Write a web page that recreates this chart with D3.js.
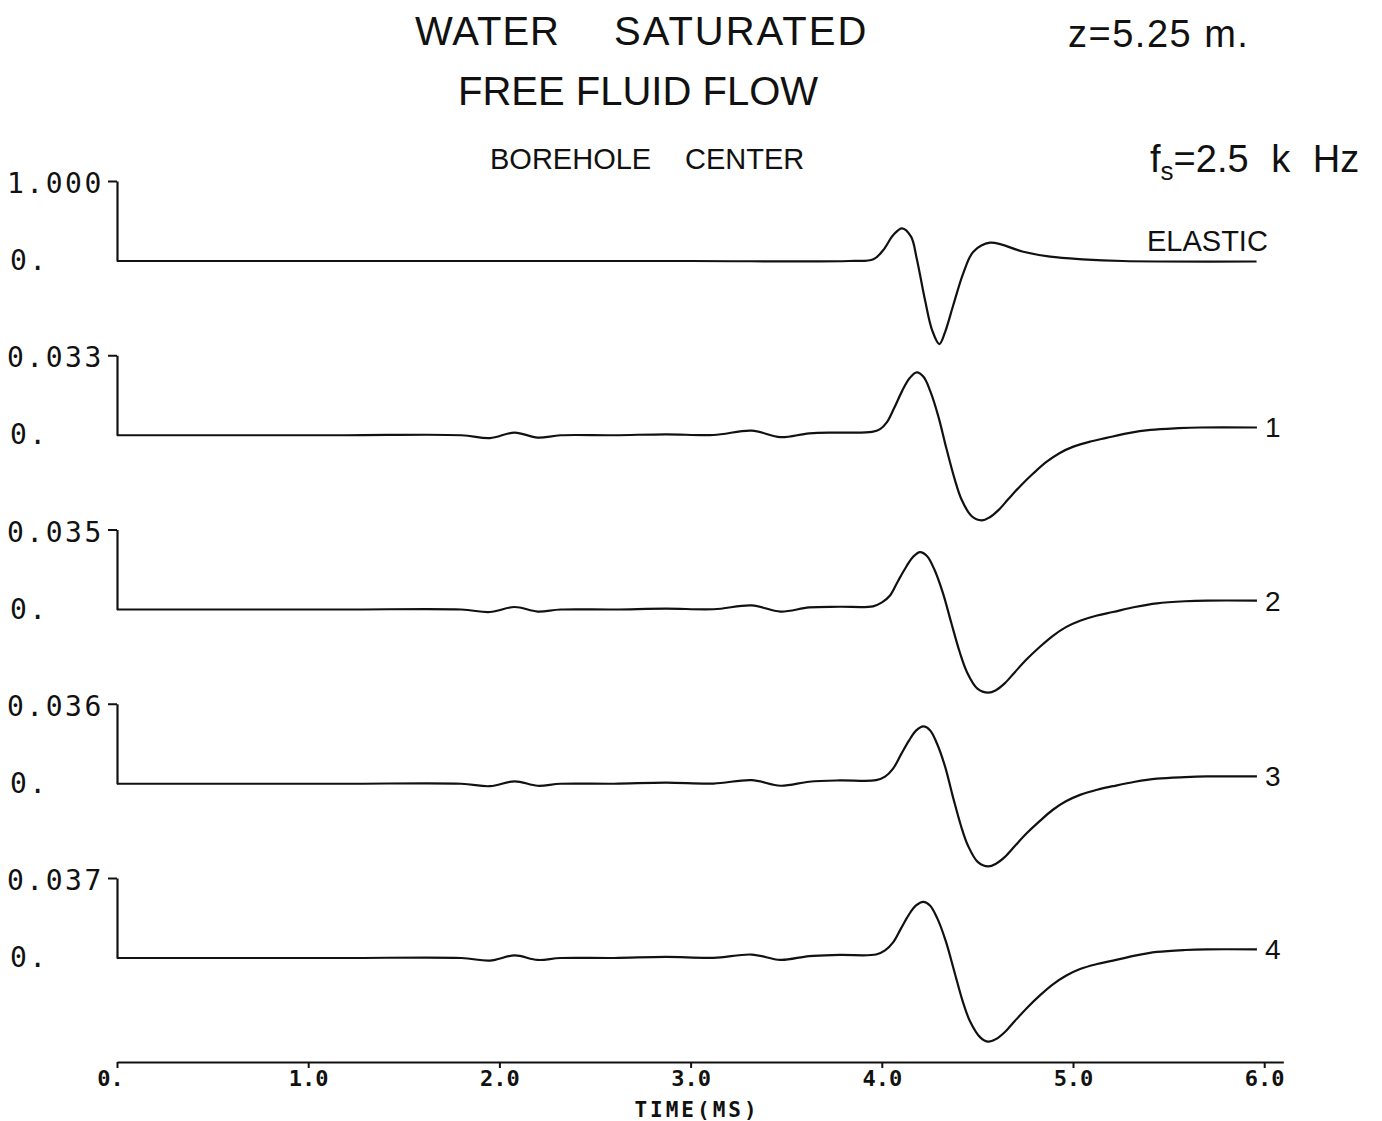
<!DOCTYPE html>
<html>
<head>
<meta charset="utf-8">
<script src="https://cdn.jsdelivr.net/npm/d3@7"></script>
<style>
  body { margin: 0; background: #fff; }
  svg { display: block; }
</style>
</head>
<body>
<svg id="chart" width="1382" height="1121"></svg>
<script>
// Pressure traces at the borehole center (time in ms, amplitude in panel units)
const timeElastic = [0, 1.0, 2.0, 3.0, 3.83, 3.956, 4.008, 4.060, 4.106, 4.153, 4.182, 4.226, 4.263, 4.301, 4.331, 4.374, 4.426, 4.479, 4.566, 4.74, 4.88, 5.05, 5.26, 5.96];
const ampElastic  = [0, 0, 0, 0, 0, 0.021, 0.138, 0.325, 0.409, 0.304, 0.038, -0.488, -0.863, -1.038, -0.888, -0.550, -0.154, 0.116, 0.229, 0.116, 0.054, 0.021, 0, -0.006];

const time1 = [0, 0.6, 1.2, 1.80, 1.95, 2.08, 2.20, 2.32, 2.60, 2.87, 3.12, 3.32, 3.47, 3.62, 3.78,
  3.949, 3.991, 4.027, 4.064, 4.106, 4.145, 4.183, 4.218, 4.254, 4.296, 4.338, 4.380, 4.416, 4.469, 4.522,
  4.563, 4.610, 4.662, 4.725, 4.793, 4.861, 4.929, 5.002, 5.091, 5.175, 5.290, 5.405, 5.551, 5.666, 5.962];
const amp1 = [0, 0, 0, 0, -0.0012, 0.0011, -0.0010, 0, 0, 0.0004, 0.0001, 0.0019, -0.0008, 0.0008, 0.0011,
  0.0014, 0.0025, 0.0054, 0.0111, 0.0182, 0.0235, 0.0259, 0.0241, 0.0181, 0.0077, -0.0055, -0.0178, -0.0263, -0.0333, -0.0351,
  -0.0339, -0.0309, -0.0263, -0.0209, -0.0157, -0.0110, -0.0074, -0.0047, -0.0026, -0.0011, 0.0009, 0.0022, 0.0029, 0.0032, 0.0032];

const time2 = [0, 0.6, 1.2, 1.80, 1.95, 2.08, 2.20, 2.32, 2.60, 2.87, 3.12, 3.32, 3.47, 3.62, 3.78,
  3.954, 4.001, 4.043, 4.085, 4.127, 4.163, 4.200, 4.236, 4.275, 4.319, 4.363, 4.407, 4.445, 4.500, 4.557,
  4.597, 4.644, 4.697, 4.759, 4.827, 4.895, 4.963, 5.037, 5.126, 5.209, 5.324, 5.439, 5.586, 5.701, 5.962];
const amp2 = [0, 0, 0, 0, -0.0011, 0.0011, -0.0009, 0, 0, 0.0004, 0.0001, 0.0018, -0.0009, 0.0009, 0.0012,
  0.0014, 0.0031, 0.0061, 0.0125, 0.0186, 0.0230, 0.0251, 0.0234, 0.0175, 0.0074, -0.0057, -0.0185, -0.0273, -0.0346, -0.0364,
  -0.0353, -0.0322, -0.0273, -0.0217, -0.0163, -0.0115, -0.0077, -0.0049, -0.0026, -0.0011, 0.0011, 0.0027, 0.0036, 0.0039, 0.0039];

const time3 = [0, 0.6, 1.2, 1.80, 1.95, 2.08, 2.20, 2.32, 2.60, 2.87, 3.12, 3.32, 3.47, 3.62, 3.78,
  3.970, 4.017, 4.059, 4.100, 4.142, 4.179, 4.217, 4.252, 4.289, 4.331, 4.372, 4.414, 4.451, 4.503, 4.557,
  4.597, 4.644, 4.697, 4.759, 4.827, 4.895, 4.963, 5.037, 5.126, 5.209, 5.324, 5.439, 5.586, 5.701, 5.962];
const amp3 = [0, 0, 0, 0, -0.0011, 0.0011, -0.0009, 0, 0, 0.0005, 0.0001, 0.0016, -0.0009, 0.0009, 0.0015,
  0.0016, 0.0032, 0.0068, 0.0131, 0.0194, 0.0239, 0.0258, 0.0241, 0.0180, 0.0077, -0.0059, -0.0189, -0.0279, -0.0353, -0.0372,
  -0.0360, -0.0329, -0.0279, -0.0222, -0.0167, -0.0117, -0.0079, -0.0050, -0.0027, -0.0011, 0.0009, 0.0023, 0.0030, 0.0033, 0.0033];

const time4 = [0, 0.6, 1.2, 1.80, 1.95, 2.08, 2.20, 2.32, 2.60, 2.87, 3.12, 3.32, 3.47, 3.62, 3.78,
  3.970, 4.017, 4.059, 4.100, 4.142, 4.179, 4.217, 4.252, 4.291, 4.335, 4.379, 4.422, 4.460, 4.515, 4.557,
  4.597, 4.644, 4.697, 4.759, 4.827, 4.895, 4.963, 5.037, 5.126, 5.209, 5.324, 5.439, 5.586, 5.701, 5.962];
const amp4 = [0, 0, 0, 0, -0.0012, 0.0012, -0.0009, 0, 0, 0.0005, 0.0001, 0.0016, -0.0009, 0.0009, 0.0014,
  0.0016, 0.0035, 0.0072, 0.0136, 0.0201, 0.0243, 0.0260, 0.0243, 0.0182, 0.0077, -0.0061, -0.0197, -0.0290, -0.0367, -0.0387,
  -0.0375, -0.0342, -0.0290, -0.0231, -0.0173, -0.0122, -0.0082, -0.0051, -0.0028, -0.0012, 0.0011, 0.0028, 0.0037, 0.0040, 0.0040];

// Per-panel full-scale values and labels
const panelMax    = [1.0, 0.033, 0.035, 0.036, 0.037];
const panelMaxLbl = ["1.000", "0.033", "0.035", "0.036", "0.037"];
const panelNames  = ["ELASTIC", "1", "2", "3", "4"];

// Time axis
const timeTicks      = [0, 1, 2, 3, 4, 5, 6];
const timeTickLabels = ["0.", "1.0", "2.0", "3.0", "4.0", "5.0", "6.0"];

const traces = [
  { t: timeElastic, a: ampElastic },
  { t: time1, a: amp1 },
  { t: time2, a: amp2 },
  { t: time3, a: amp3 },
  { t: time4, a: amp4 }
];

const svg = d3.select("#chart");
const ink = "#111";

// layout
const x0 = 117, pxPerMs = 191.2;
const x = d3.scaleLinear().domain([0, 6.1]).range([x0, x0 + 6.1 * pxPerMs]);
const firstBase = 261, panelStep = 174.25, panelH = 80;
const axisY = 1062;

const sans = "'Liberation Sans', Arial, sans-serif";
const mono = "'DejaVu Sans Mono', monospace";

// headings
const head = svg.append("g").attr("fill", ink).attr("font-family", sans);
head.append("text").attr("x", 415).attr("y", 45).attr("font-size", 40).attr("letter-spacing", 1).text("WATER");
head.append("text").attr("x", 614).attr("y", 45).attr("font-size", 40).attr("letter-spacing", 2).text("SATURATED");
head.append("text").attr("x", 1068).attr("y", 47).attr("font-size", 38).attr("letter-spacing", 1.5).text("z=5.25 m.");
head.append("text").attr("x", 458).attr("y", 105).attr("font-size", 40).text("FREE FLUID FLOW");
head.append("text").attr("x", 490).attr("y", 169).attr("font-size", 29).text("BOREHOLE");
head.append("text").attr("x", 685).attr("y", 169).attr("font-size", 29).text("CENTER");
const fs = head.append("text").attr("x", 1150).attr("y", 172).attr("font-size", 38).attr("word-spacing", 12);
fs.append("tspan").text("f");
fs.append("tspan").attr("dy", 8).attr("font-size", 26).text("s");
fs.append("tspan").attr("dy", -8).text("=2.5 k Hz");

const line = d3.line().curve(d3.curveCatmullRom.alpha(0.5));

traces.forEach((tr, i) => {
  const base = firstBase + i * panelStep;
  const y = d3.scaleLinear().domain([0, panelMax[i]]).range([base, base - panelH]);
  const g = svg.append("g");

  // vertical amplitude axis with a single full-scale tick
  const yAxis = d3.axisLeft(y).tickValues([panelMax[i]]).tickSize(9).tickSizeOuter(0).tickFormat(() => "");
  const ga = g.append("g").attr("transform", `translate(${x(0)},0)`).call(yAxis);
  ga.select(".domain").attr("stroke", ink).attr("stroke-width", 2.2);
  ga.selectAll(".tick line").attr("stroke", ink).attr("stroke-width", 2);

  g.append("text").attr("x", 7).attr("y", y(panelMax[i]) + 12)
    .attr("font-family", mono).attr("font-size", 28).attr("letter-spacing", 2.5)
    .attr("fill", ink).text(panelMaxLbl[i]);
  g.append("text").attr("x", 10).attr("y", base + 9)
    .attr("font-family", mono).attr("font-size", 28).attr("letter-spacing", 2.5)
    .attr("fill", ink).text("0.");

  const pts = tr.t.map((t, k) => [x(t), y(tr.a[k])]);
  g.append("path").attr("d", line(pts))
    .attr("fill", "none").attr("stroke", ink).attr("stroke-width", 2.2)
    .attr("stroke-linejoin", "round");

  const last = pts[pts.length - 1];
  if (i === 0) {
    g.append("text").attr("x", 1147).attr("y", 251)
      .attr("font-family", sans).attr("font-size", 29).attr("fill", ink).text(panelNames[i]);
  } else {
    g.append("text").attr("x", last[0] + 8).attr("y", last[1] + 10)
      .attr("font-family", sans).attr("font-size", 28).attr("fill", ink).text(panelNames[i]);
  }
});

// time axis
const xAxis = d3.axisBottom(x).tickValues(timeTicks).tickSize(6).tickSizeOuter(0)
  .tickFormat((d, i) => timeTickLabels[i]);
const gx = svg.append("g").attr("transform", `translate(0,${axisY})`).call(xAxis);
gx.select(".domain").attr("stroke", ink).attr("stroke-width", 2.2);
gx.selectAll(".tick line").attr("stroke", ink).attr("stroke-width", 2);
gx.selectAll(".tick text")
  .attr("y", 24).attr("dy", 0)
  .attr("font-family", mono).attr("font-weight", "bold").attr("font-size", 22)
  .attr("fill", ink)
  .attr("dx", (d, i) => i === 0 ? -7 : 0);

svg.append("text").attr("x", 697).attr("y", 1117).attr("text-anchor", "middle")
  .attr("font-family", mono).attr("font-weight", "bold").attr("font-size", 21)
  .attr("letter-spacing", 3).attr("fill", ink).text("TIME(MS)");
</script>
</body>
</html>
